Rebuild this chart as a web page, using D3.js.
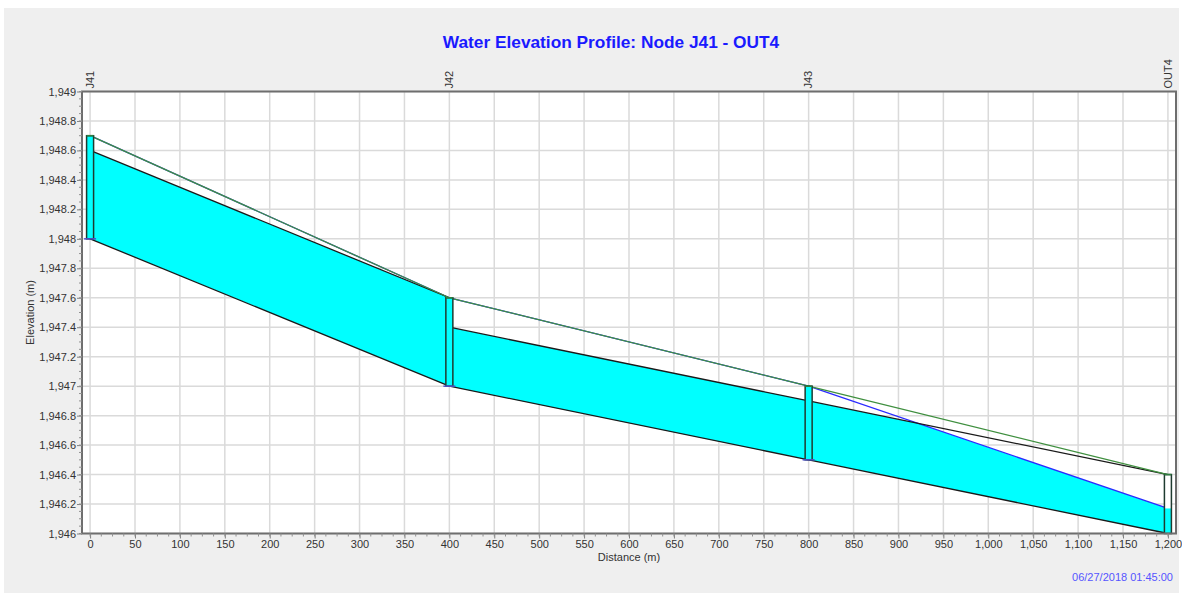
<!DOCTYPE html>
<html>
<head>
<meta charset="utf-8">
<script src="https://cdn.jsdelivr.net/npm/d3@7"></script>
<style>
  html, body { margin: 0; padding: 0; background: #ffffff; }
  svg { display: block; font-family: "Liberation Sans", Arial, sans-serif; }
</style>
</head>
<body>
<svg id="chart" width="1182" height="593"></svg>
<script>
// ---------- data ----------
const nodeNames   = ["J41", "J42", "J43", "OUT4"];
const nodeDist    = [0, 400, 800, 1200];
const nodeInvert  = [1948.0, 1947.0, 1946.5, 1946.0];
const nodeRim     = [1948.7, 1947.6, 1947.0, 1946.4];
const nodeWater   = [1948.7, 1947.6, 1947.0, 1946.17];
const linkUpInvert = [1948.0, 1947.0, 1946.5];
const linkDnInvert = [1947.0, 1946.5, 1946.0];
const linkHeight   = [0.6, 0.4, 0.4];
const xTicks = [0,50,100,150,200,250,300,350,400,450,500,550,600,650,700,750,800,850,900,950,1000,1050,1100,1150,1200];
const yTicks = [1946,1946.2,1946.4,1946.6,1946.8,1947,1947.2,1947.4,1947.6,1947.8,1948,1948.2,1948.4,1948.6,1948.8,1949];
const titleText = "Water Elevation Profile: Node J41 - OUT4";
const xLabel = "Distance (m)";
const yLabel = "Elevation (m)";
const timeStamp = "06/27/2018 01:45:00";

// ---------- layout ----------
const svg = d3.select("#chart");
const L = 82, R = 1176, T = 91.5, B = 533.5;
const x = d3.scaleLinear().domain([-9, 1209]).range([L, R]);
const y = d3.scaleLinear().domain([1946, 1949]).range([B, T]);

svg.append("rect").attr("x", 4).attr("y", 8).attr("width", 1175).attr("height", 585).attr("fill", "#efefef");
svg.append("rect").attr("x", L).attr("y", T).attr("width", R - L).attr("height", B - T).attr("fill", "#ffffff");

// grid
const grid = svg.append("g").attr("stroke", "#dadada").attr("stroke-width", 1.5);
grid.selectAll(".gx").data(xTicks).join("line")
  .attr("x1", d => x(d)).attr("x2", d => x(d)).attr("y1", T).attr("y2", B);
grid.selectAll(".gy").data(yTicks).join("line")
  .attr("x1", L).attr("x2", R).attr("y1", d => y(d)).attr("y2", d => y(d));

// ---------- links ----------
const links = d3.range(nodeDist.length - 1).map(i => ({
  x0: nodeDist[i], x1: nodeDist[i + 1],
  inv0: linkUpInvert[i], inv1: linkDnInvert[i],
  crn0: linkUpInvert[i] + linkHeight[i], crn1: linkDnInvert[i] + linkHeight[i],
  ws0: nodeWater[i], ws1: nodeWater[i + 1],
  rim0: nodeRim[i], rim1: nodeRim[i + 1]
}));

// fill polygon: invert up to min(crown, water surface)
function fillPoly(l) {
  const top = [];
  const d0 = l.ws0 - l.crn0, d1 = l.ws1 - l.crn1;
  const top0 = Math.min(l.ws0, l.crn0), top1 = Math.min(l.ws1, l.crn1);
  top.push([l.x0, top0]);
  if (d0 * d1 < 0) {
    const t = d0 / (d0 - d1);
    top.push([l.x0 + t * (l.x1 - l.x0), l.crn0 + t * (l.crn1 - l.crn0)]);
  }
  top.push([l.x1, top1]);
  return top.concat([[l.x1, l.inv1], [l.x0, l.inv0]]);
}
const lineGen = d3.line().x(d => x(d[0])).y(d => y(d[1]));

const gLinks = svg.append("g");
gLinks.selectAll(".fill").data(links).join("path")
  .attr("d", l => lineGen(fillPoly(l)) + "Z")
  .attr("fill", "#00ffff").attr("stroke", "none");
// water surface (blue)
gLinks.selectAll(".ws").data(links).join("path")
  .attr("d", l => lineGen([[l.x0, l.ws0], [l.x1, l.ws1]]))
  .attr("fill", "none").attr("stroke", "#2a2aff").attr("stroke-width", 1.3);
// invert & crown (black)
gLinks.selectAll(".inv").data(links).join("path")
  .attr("d", l => lineGen([[l.x0, l.inv0], [l.x1, l.inv1]]))
  .attr("fill", "none").attr("stroke", "#1a1a1a").attr("stroke-width", 1.3);
gLinks.selectAll(".crn").data(links).join("path")
  .attr("d", l => lineGen([[l.x0, l.crn0], [l.x1, l.crn1]]))
  .attr("fill", "none").attr("stroke", "#1a1a1a").attr("stroke-width", 1.3);
// ground / rim (green)
gLinks.selectAll(".rim").data(links).join("path")
  .attr("d", l => lineGen([[l.x0, l.rim0], [l.x1, l.rim1]]))
  .attr("fill", "none").attr("stroke", "#3f8f3f").attr("stroke-width", 1.3);

// ---------- nodes ----------
const nodes = nodeNames.map((n, i) => ({ name: n, d: nodeDist[i], inv: nodeInvert[i], rim: nodeRim[i], ws: nodeWater[i] }));
const gNodes = svg.append("g");
const nw = 7;
gNodes.selectAll(".nbg").data(nodes).join("rect")
  .attr("x", d => x(d.d) - nw / 2).attr("width", nw)
  .attr("y", d => y(d.rim)).attr("height", d => y(d.inv) - y(d.rim))
  .attr("fill", "#ffffff");
gNodes.selectAll(".nw").data(nodes).join("rect")
  .attr("x", d => x(d.d) - nw / 2).attr("width", nw)
  .attr("y", d => y(Math.min(d.ws, d.rim))).attr("height", d => y(d.inv) - y(Math.min(d.ws, d.rim)))
  .attr("fill", "#00ffff");
gNodes.selectAll(".nol").data(nodes).join("rect")
  .attr("x", d => x(d.d) - nw / 2).attr("width", nw)
  .attr("y", d => y(d.rim)).attr("height", d => y(d.inv) - y(d.rim))
  .attr("fill", "none").attr("stroke", "#1e3b30").attr("stroke-width", 1.5);
gNodes.selectAll(".ntop").data(nodes).join("line")
  .attr("x1", d => x(d.d) - nw / 2).attr("x2", d => x(d.d) + nw / 2)
  .attr("y1", d => y(d.rim)).attr("y2", d => y(d.rim))
  .attr("stroke", "#2f7f3f").attr("stroke-width", 1.5);
gNodes.selectAll(".nbot").data(nodes.slice(0, 3)).join("line")
  .attr("x1", d => x(d.d) - 6).attr("x2", d => x(d.d) + 6)
  .attr("y1", d => y(d.inv)).attr("y2", d => y(d.inv))
  .attr("stroke", "#5050c8").attr("stroke-width", 1.5);

// ---------- border ----------
svg.append("rect").attr("x", L).attr("y", T).attr("width", R - L).attr("height", B - T)
  .attr("fill", "none").attr("stroke", "#6e6e6e").attr("stroke-width", 2);

// ---------- axes ----------
const fmt = d3.format(",");
const yAxis = svg.append("g").attr("transform", `translate(${L},0)`)
  .call(d3.axisLeft(y).tickValues(yTicks).tickFormat(fmt).tickSize(5).tickPadding(1));
const xAxis = svg.append("g").attr("transform", `translate(0,${B})`)
  .call(d3.axisBottom(x).tickValues(xTicks).tickFormat(fmt).tickSize(5).tickPadding(2));
[yAxis, xAxis].forEach(a => {
  a.select(".domain").remove();
  a.selectAll("line").attr("stroke", "#808080");
  a.selectAll("text").attr("fill", "#333").style("font-size", "11px").style("font-family", "'Liberation Sans', Arial, sans-serif");
});
// minor ticks
const yMinor = d3.range(0, 61).map(k => 1946 + k * 0.05);
svg.append("g").selectAll("line").data(yMinor).join("line")
  .attr("x1", L - 3).attr("x2", L).attr("y1", d => y(d)).attr("y2", d => y(d))
  .attr("stroke", "#909090").attr("stroke-width", 1);
const xMinor = d3.range(0, 97).map(k => k * 12.5);
svg.append("g").selectAll("line").data(xMinor).join("line")
  .attr("x1", d => x(d)).attr("x2", d => x(d)).attr("y1", B).attr("y2", B + 3)
  .attr("stroke", "#909090").attr("stroke-width", 1);

// node labels on top
svg.append("g").selectAll("text").data(nodes).join("text")
  .attr("transform", d => `translate(${x(d.d)},${T - 3}) rotate(-90)`)
  .attr("dy", "0.35em").attr("text-anchor", "start")
  .attr("fill", "#333").style("font-size", "11px")
  .text(d => d.name);

// ---------- titles ----------
svg.append("text").attr("x", 611).attr("y", 48).attr("text-anchor", "middle")
  .attr("fill", "#1a1aff").style("font-size", "17.3px").style("font-weight", "bold")
  .text(titleText);
svg.append("text").attr("x", (L + R) / 2).attr("y", 561).attr("text-anchor", "middle")
  .attr("fill", "#333").style("font-size", "11px").text(xLabel);
svg.append("text").attr("transform", `translate(34,${(T + B) / 2}) rotate(-90)`).attr("text-anchor", "middle")
  .attr("fill", "#333").style("font-size", "11px").text(yLabel);
svg.append("text").attr("x", 1173).attr("y", 581).attr("text-anchor", "end")
  .attr("fill", "#5555ff").style("font-size", "11px").text(timeStamp);
</script>
</body>
</html>
